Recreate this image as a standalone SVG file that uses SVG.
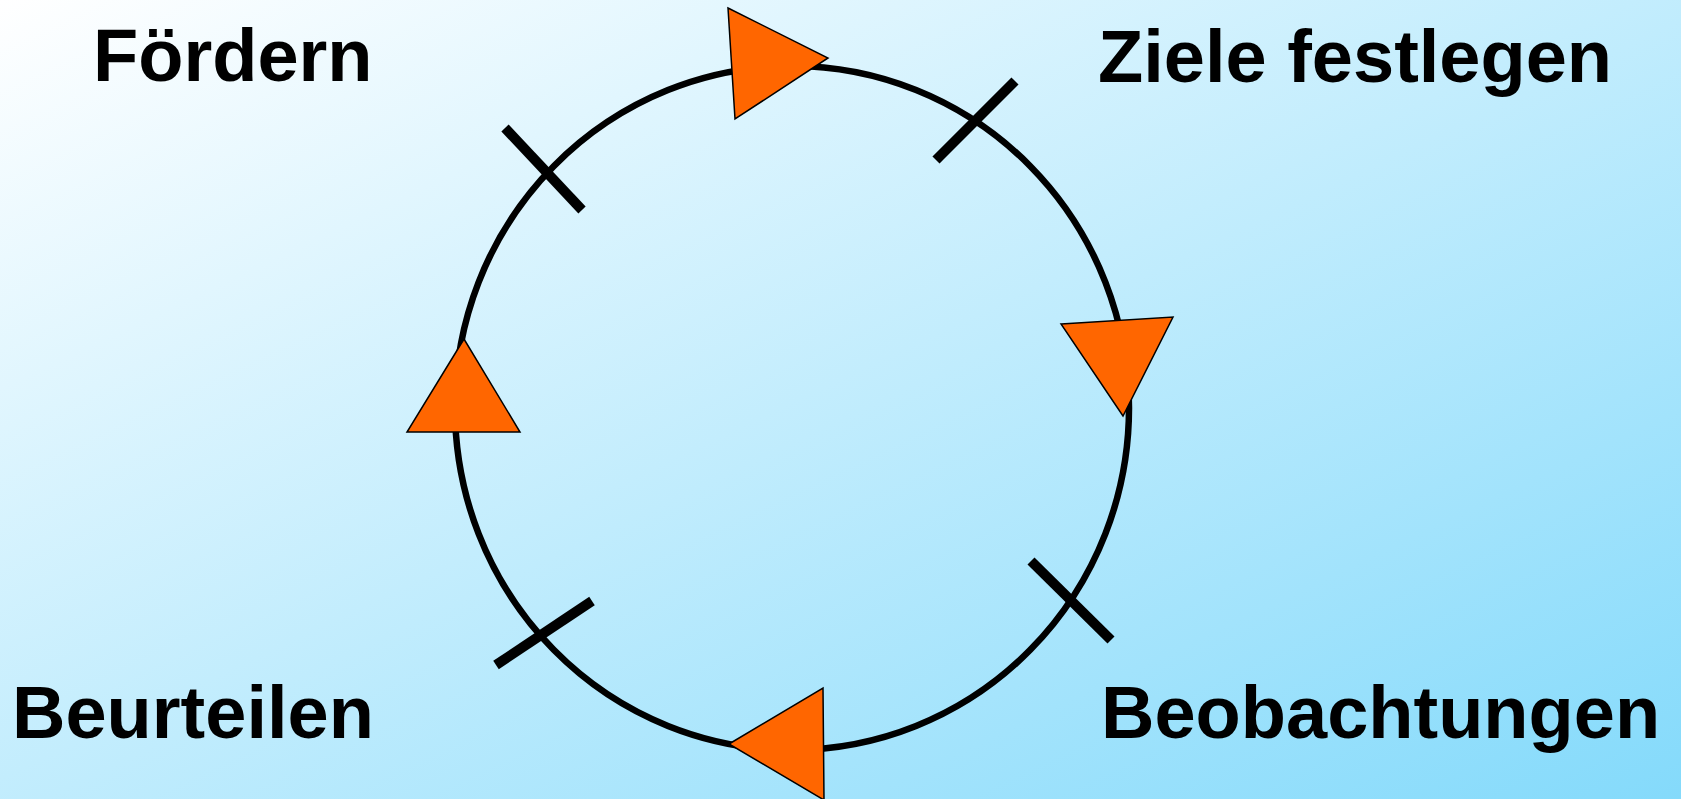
<svg xmlns="http://www.w3.org/2000/svg" width="1681" height="799" viewBox="0 0 1681 799">
<defs>
<linearGradient id="bg" x1="0" y1="0" x2="1" y2="1">
<stop offset="0" stop-color="#FFFFFF"/>
<stop offset="1" stop-color="#84DAFB"/>
</linearGradient>
<style>
.lbl{font-family:"Liberation Sans",Arial,sans-serif;font-weight:bold;font-size:74px;fill:#000}
.ring{fill:none;stroke:#000;stroke-width:6.5}
.tick{stroke:#000;stroke-width:10;stroke-linecap:butt}
.tri{fill:#FF6600;stroke:#000;stroke-width:1.5;stroke-linejoin:miter}
</style>
</defs>
<rect width="1681" height="799" fill="url(#bg)"/>
<g id="connectors">
<ellipse class="ring" cx="792" cy="408" rx="337" ry="342"/>
<line class="tick" x1="505" y1="128" x2="582" y2="210"/>
<line class="tick" x1="1015" y1="81" x2="936" y2="160"/>
<line class="tick" x1="1031" y1="561" x2="1111" y2="640"/>
<line class="tick" x1="592" y1="601" x2="496" y2="665"/>
<polygon class="tri" points="728,8 828,58 735,119"/>
<polygon class="tri" points="1061,324 1173,317 1123,416"/>
<polygon class="tri" points="729,744 823,688 824,800"/>
<polygon class="tri" points="464,339 407,432 520,432"/>
</g>
<g id="foerdern"><text class="lbl" x="93" y="81">Fördern</text></g>
<g id="ziele"><text class="lbl" x="1098" y="82">Ziele festlegen</text></g>
<g id="beobachtungen"><text class="lbl" x="1101" y="738">Beobachtungen</text></g>
<g id="beurteilen"><text class="lbl" x="12" y="738">Beurteilen</text></g>
</svg>
